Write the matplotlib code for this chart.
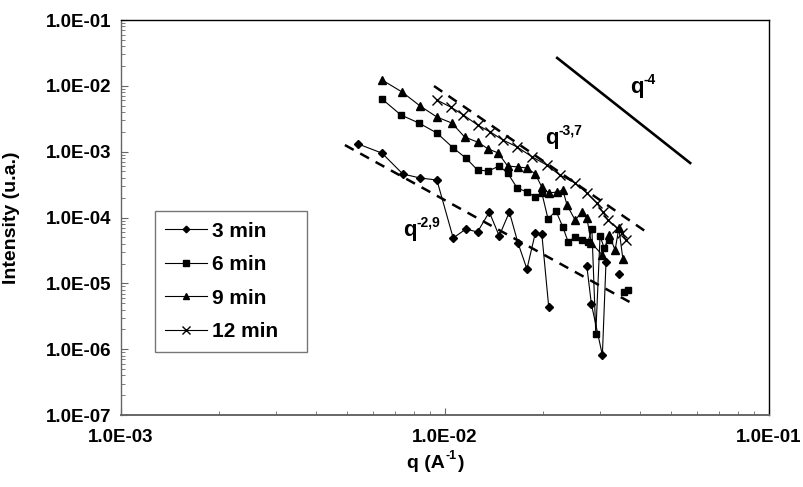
import numpy as np
import matplotlib
matplotlib.use('Agg')
import matplotlib.pyplot as plt
from matplotlib.ticker import LogLocator, FuncFormatter, NullFormatter
from matplotlib.transforms import offset_copy

plt.rcParams['font.family'] = ['Liberation Sans', 'DejaVu Sans']
plt.rcParams['font.weight'] = 'bold'

nan = np.nan

# 3 min (diamonds) - gaps where the curve is broken
q_3 = [5.39e-3, 6.39e-3, 7.41e-3, 8.38e-3, 9.44e-3, 1.06e-2, 1.16e-2, 1.26e-2,
       1.37e-2, 1.47e-2, 1.58e-2, 1.68e-2, 1.79e-2, 1.90e-2, 1.99e-2, 2.09e-2,
       nan, 2.74e-2, 2.83e-2, 3.06e-2, 3.14e-2, nan, 3.44e-2]
i_3 = [1.31e-3, 9.5e-4, 4.58e-4, 3.98e-4, 3.71e-4, 4.88e-5, 6.68e-5, 6.02e-5,
       1.21e-4, 5.24e-5, 1.21e-4, 4.10e-5, 1.65e-5, 5.81e-5, 5.61e-5, 4.37e-6,
       nan, 1.83e-5, 4.85e-6, 8.1e-7, 2.11e-5, nan, 1.39e-5]

# 6 min (squares)
q_6 = [6.39e-3, 7.31e-3, 8.31e-3, 9.44e-3, 1.06e-2, 1.16e-2, 1.26e-2, 1.36e-2,
       1.47e-2, 1.56e-2, 1.67e-2, 1.79e-2, 1.90e-2, 1.99e-2, 2.08e-2, 2.20e-2,
       2.31e-2, 2.40e-2, 2.52e-2, 2.65e-2, 2.76e-2, 2.84e-2, 2.92e-2, 3.01e-2,
       3.10e-2, 3.21e-2, nan, 3.57e-2, 3.67e-2]
i_6 = [6.31e-3, 3.61e-3, 2.72e-3, 1.92e-3, 1.14e-3, 8.0e-4, 5.27e-4, 5.08e-4,
       6.06e-4, 4.74e-4, 2.81e-4, 2.44e-4, 2.05e-4, 2.36e-4, 9.49e-5, 1.26e-4,
       7.17e-5, 4.25e-5, 5.06e-5, 4.55e-5, 4.25e-5, 6.68e-5, 1.70e-6, 5.24e-5,
       3.44e-5, 4.55e-5, nan, 7.38e-6, 7.92e-6]

# 9 min (triangles)
q_9 = [6.39e-3, 7.37e-3, 8.38e-3, 9.44e-3, 1.05e-2, 1.15e-2, 1.26e-2, 1.36e-2,
       1.46e-2, 1.56e-2, 1.68e-2, 1.79e-2, 1.90e-2, 1.99e-2, 2.09e-2, 2.22e-2,
       2.31e-2, 2.38e-2, 2.52e-2, 2.65e-2, 2.74e-2, 2.83e-2, 3.06e-2, 3.21e-2,
       3.35e-2, 3.44e-2, 3.54e-2]
i_9 = [1.23e-2, 8.06e-3, 4.94e-3, 3.36e-3, 2.72e-3, 1.67e-3, 1.40e-3, 1.10e-3,
       9.55e-4, 6.06e-4, 5.85e-4, 5.65e-4, 4.58e-4, 2.90e-4, 2.36e-4, 2.44e-4,
       2.62e-4, 1.55e-4, 9.16e-5, 1.21e-4, 9.83e-5, 4.10e-5, 2.69e-5, 5.42e-5,
       3.21e-5, 6.92e-5, 2.34e-5]

# 12 min (crosses)
q_12 = [9.44e-3, 1.04e-2, 1.14e-2, 1.26e-2, 1.38e-2, 1.51e-2, 1.67e-2, 1.86e-2,
        2.06e-2, 2.26e-2, 2.52e-2, 2.74e-2, 2.94e-2, 3.07e-2, 3.18e-2, 3.40e-2,
        3.52e-2, 3.62e-2]
i_12 = [6.09e-3, 4.77e-3, 3.61e-3, 2.54e-3, 1.99e-3, 1.50e-3, 1.18e-3, 8.30e-4,
        6.27e-4, 4.42e-4, 3.34e-4, 2.36e-4, 1.66e-4, 1.21e-4, 9.16e-5, 6.92e-5,
        5.81e-5, 4.55e-5]

# guide lines (end points)
fit29_q = [4.91e-3, 3.86e-2]
fit29_i = [1.26e-3, 4.69e-6]
fit37_q = [9.25e-3, 4.23e-2]
fit37_i = [9.93e-3, 5.81e-5]
slope4_q = [2.22e-2, 5.71e-2]
slope4_i = [2.65e-2, 6.73e-4]

# slope labels: (q, I) of the "q", exponent text
slope_labels = [((7.41e-3, 5.24e-5), '-2,9'),
                ((2.04e-2, 1.31e-3), '-3,7'),
                ((3.72e-2, 7.78e-3), '-4')]

fig = plt.figure(figsize=(8.04, 4.87), dpi=100)
ax = fig.add_axes([121 / 804, 1 - 415 / 487, 648 / 804, 395 / 487])

ax.plot(q_3, i_3, color='black', lw=0.8, marker='D', ms=4.2, label='3 min')
ax.plot(q_6, i_6, color='black', lw=0.8, marker='s', ms=5, label='6 min')
ax.plot(q_9, i_9, color='black', lw=0.8, marker='^', ms=5.5, label='9 min')
ax.plot(q_12, i_12, color='black', lw=0.8, marker='x', ms=6.5, mew=1.0,
        label='12 min')

ax.plot(fit29_q, fit29_i, color='black', lw=1.8, ls=(0, (4, 3)))
ax.plot(fit37_q, fit37_i, color='black', lw=1.8, ls=(0, (4, 3)))
ax.plot(slope4_q, slope4_i, color='black', lw=1.9)

sup_tr = offset_copy(ax.transData, fig=fig, x=9.5, y=6.5, units='points')
for (xq, yq), expo in slope_labels:
    ax.text(xq, yq, 'q', fontsize=16, fontweight='bold',
            ha='left', va='baseline')
    ax.text(xq, yq, expo, fontsize=10, fontweight='bold',
            ha='left', va='baseline', transform=sup_tr)

ax.set_xscale('log')
ax.set_yscale('log')
ax.set_xlim(1e-3, 1e-1)
ax.set_ylim(1e-7, 1e-1)

fmt = FuncFormatter(lambda v, p: '%.1E' % v)
ax.xaxis.set_major_formatter(fmt)
ax.yaxis.set_major_formatter(fmt)
ax.xaxis.set_major_locator(LogLocator(base=10, numticks=10))
ax.yaxis.set_major_locator(LogLocator(base=10, numticks=10))
ax.xaxis.set_minor_locator(LogLocator(base=10, subs=np.arange(2, 10), numticks=20))
ax.yaxis.set_minor_locator(LogLocator(base=10, subs=np.arange(2, 10), numticks=20))
ax.xaxis.set_minor_formatter(NullFormatter())
ax.yaxis.set_minor_formatter(NullFormatter())
ax.tick_params(which='both', direction='in', labelsize=13.5, color='#666666')
ax.tick_params(which='major', length=5)
ax.tick_params(which='minor', length=3)
ax.tick_params(axis='x', pad=10)
ax.tick_params(axis='y', pad=7)
for s in ax.spines.values():
    s.set_linewidth(1.0)
ax.spines['bottom'].set_color('#666666')
ax.spines['left'].set_color('#666666')
ax.spines['bottom'].set_linewidth(1.4)

# x label: "q (A" plus a raised "-1" and ")"
xl_y = -0.135
ax.text(0.5, xl_y, 'q (A', transform=ax.transAxes, fontsize=14,
        fontweight='bold', ha='right', va='baseline')
ax.text(0.5, xl_y, '-1', transform=offset_copy(ax.transAxes, fig=fig,
        x=0.5, y=6.5, units='points'), fontsize=9, fontweight='bold',
        ha='left', va='baseline')
ax.text(0.5, xl_y, ')', transform=offset_copy(ax.transAxes, fig=fig,
        x=9.5, y=0, units='points'), fontsize=14, fontweight='bold',
        ha='left', va='baseline')

ax.set_ylabel('Intensity (u.a.)', fontsize=14, fontweight='bold')
ax.yaxis.set_label_coords(-0.156, 0.5)

leg = ax.legend(loc='upper left', bbox_to_anchor=(0.052, 0.114, 0.235, 0.402),
                mode='expand', fontsize=15, frameon=True, fancybox=False,
                edgecolor='#555555', handlelength=2.0, handletextpad=0.25,
                borderpad=0.5, labelspacing=0.7, borderaxespad=0,
                markerscale=0.8)
leg.get_frame().set_linewidth(1.0)

fig.savefig('out.png', dpi=100)
